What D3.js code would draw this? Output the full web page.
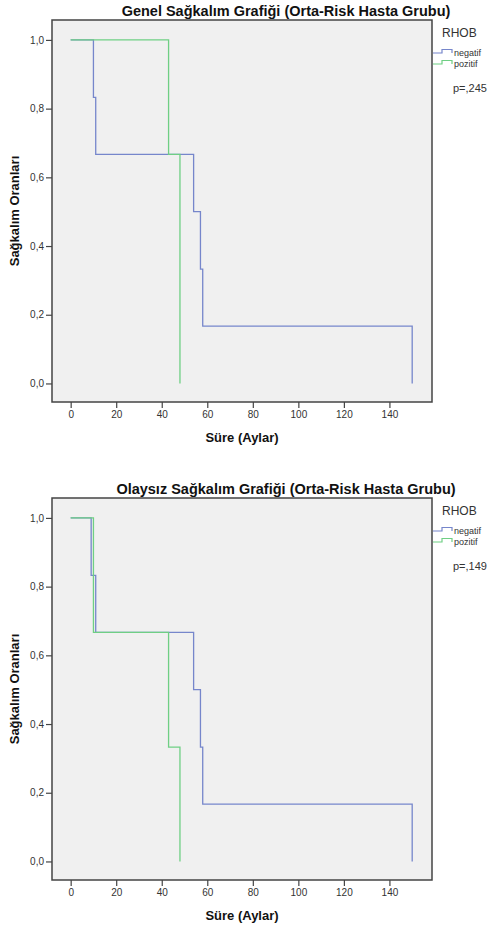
<!DOCTYPE html>
<html>
<head>
<meta charset="utf-8">
<script src="https://cdn.jsdelivr.net/npm/d3@7"></script>
<style>
  body { margin: 0; background: #fff; }
  svg { display: block; font-family: "Liberation Sans", Arial, sans-serif; }
</style>
</head>
<body>
<div id="chart"></div>
<script>
// tick values shared by both plots
const timeTicks = [0, 20, 40, 60, 80, 100, 120, 140];
const survTicks = [0, 0.2, 0.4, 0.6, 0.8, 1.0];

// Genel sağkalım (top plot)
const genelNegatifTime = [0, 10, 11, 54, 57, 58, 150];
const genelNegatifSurv = [1, 0.833, 0.667, 0.5, 0.333, 0.167, 0];
const genelPozitifTime = [0, 43, 48];
const genelPozitifSurv = [1, 0.667, 0];

// Olaysız sağkalım (bottom plot)
const olaysizNegatifTime = [0, 9, 11, 54, 57, 58, 150];
const olaysizNegatifSurv = [1, 0.833, 0.667, 0.5, 0.333, 0.167, 0];
const olaysizPozitifTime = [0, 10, 43, 48];
const olaysizPozitifSurv = [1, 0.667, 0.333, 0];

const groupLabels = ["negatif", "pozitif"];
const groupColors = ["#7686cb", "#6fcf84"];

const width = 492;
const height = 928;

const svg = d3.select("#chart")
  .append("svg")
  .attr("width", width)
  .attr("height", height);

function toPoints(times, surv) {
  return times.map((t, i) => ({ t: t, s: surv[i] }));
}

function drawKM(offsetY, title, series, pText) {
  const g = svg.append("g").attr("transform", `translate(0, ${offsetY})`);

  const frame = { left: 52, right: 432, top: 20, bottom: 402 };

  const x = d3.scaleLinear().domain([-8.2, 158.7]).range([frame.left, frame.right]);
  const y = d3.scaleLinear().domain([-0.054, 1.058]).range([frame.bottom, frame.top]);

  g.append("rect")
    .attr("x", frame.left)
    .attr("y", frame.top)
    .attr("width", frame.right - frame.left)
    .attr("height", frame.bottom - frame.top)
    .attr("fill", "#f0f0f0");

  const fmt = (d) => d3.format(".1f")(d).replace(".", ",");

  const xAxis = g.append("g")
    .attr("transform", `translate(0, ${frame.bottom})`)
    .call(d3.axisBottom(x).tickValues(timeTicks).tickSize(6).tickPadding(3));
  const yAxis = g.append("g")
    .attr("transform", `translate(${frame.left}, 0)`)
    .call(d3.axisLeft(y).tickValues(survTicks).tickFormat(fmt).tickSize(6).tickPadding(2));

  [xAxis, yAxis].forEach((ax) => {
    ax.select(".domain").remove();
    ax.selectAll("line").attr("stroke", "#444").attr("stroke-width", 1.2);
    ax.selectAll("text")
      .attr("fill", "#333")
      .style("font-size", "10px")
      .style("font-family", "'Liberation Sans', Arial, sans-serif");
  });

  const line = d3.line()
    .x((d) => x(d.t))
    .y((d) => y(d.s))
    .curve(d3.curveStepAfter);

  series.forEach((s, i) => {
    g.append("path")
      .datum(s)
      .attr("d", line)
      .attr("fill", "none")
      .attr("stroke", groupColors[i])
      .attr("stroke-width", 1.3);
  });

  // frame on top of the marks
  g.append("rect")
    .attr("x", frame.left)
    .attr("y", frame.top)
    .attr("width", frame.right - frame.left)
    .attr("height", frame.bottom - frame.top)
    .attr("fill", "none")
    .attr("stroke", "#444")
    .attr("stroke-width", 1.5);

  g.append("text")
    .attr("x", 286)
    .attr("y", 16)
    .attr("text-anchor", "middle")
    .attr("font-weight", "bold")
    .attr("font-size", "14.5px")
    .attr("fill", "#111")
    .text(title);

  g.append("text")
    .attr("x", 242)
    .attr("y", 442)
    .attr("text-anchor", "middle")
    .attr("font-weight", "bold")
    .attr("font-size", "13px")
    .attr("fill", "#111")
    .text("Süre (Aylar)");

  g.append("text")
    .attr("transform", "translate(19, 211) rotate(-90)")
    .attr("text-anchor", "middle")
    .attr("font-weight", "bold")
    .attr("font-size", "13px")
    .attr("fill", "#111")
    .text("Sağkalım Oranları");

  // legend
  const legend = g.append("g").attr("transform", "translate(433, 0)");

  legend.append("text")
    .attr("x", 9)
    .attr("y", 37)
    .attr("font-size", "12px")
    .attr("fill", "#333")
    .text("RHOB");

  groupLabels.forEach((label, i) => {
    const ly = 53 + i * 11;
    legend.append("path")
      .attr("d", `M0,${ly} H9 V${ly - 3.5} H19 V${ly}`)
      .attr("fill", "none")
      .attr("stroke", groupColors[i])
      .attr("stroke-width", 1.2);
    legend.append("text")
      .attr("x", 21)
      .attr("y", ly + 3)
      .attr("font-size", "9px")
      .attr("fill", "#333")
      .text(label);
  });

  legend.append("text")
    .attr("x", 20)
    .attr("y", 92)
    .attr("font-size", "11px")
    .attr("fill", "#333")
    .text(pText);
}

drawKM(0, "Genel Sağkalım Grafiği (Orta-Risk Hasta Grubu)", [
  toPoints(genelNegatifTime, genelNegatifSurv),
  toPoints(genelPozitifTime, genelPozitifSurv),
], "p=,245");

drawKM(478, "Olaysız Sağkalım Grafiği (Orta-Risk Hasta Grubu)", [
  toPoints(olaysizNegatifTime, olaysizNegatifSurv),
  toPoints(olaysizPozitifTime, olaysizPozitifSurv),
], "p=,149");
</script>
</body>
</html>
